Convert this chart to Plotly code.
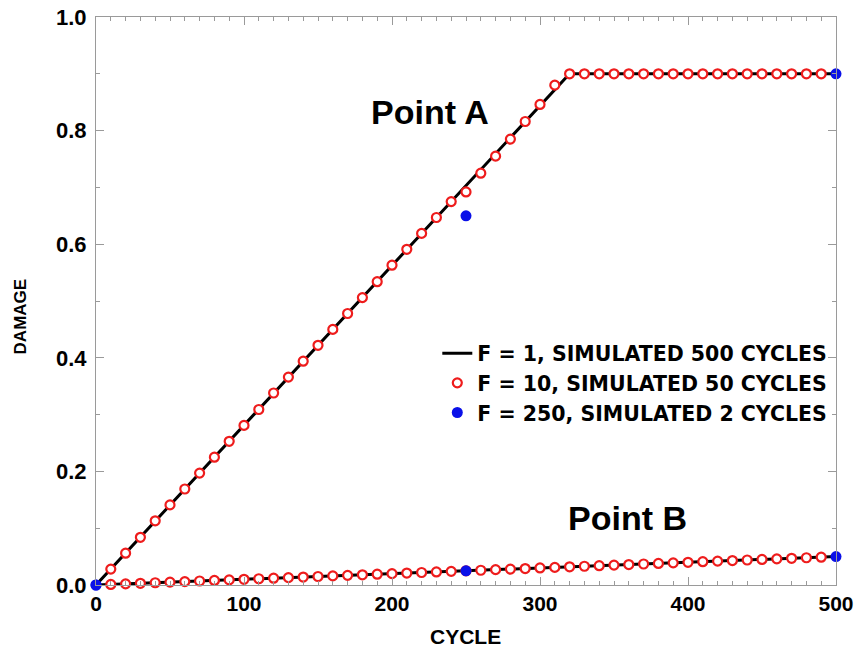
import plotly.graph_objects as go

# ---------------- data ----------------
cycles_red = [10, 20, 30, 40, 50, 60, 70, 80, 90, 100, 110, 120, 130, 140, 150, 160, 170, 180, 190, 200,
              210, 220, 230, 240, 250, 260, 270, 280, 290, 300, 310, 320, 330, 340, 350, 360, 370, 380, 390, 400,
              410, 420, 430, 440, 450, 460, 470, 480, 490]
damage_A_red = [0.028, 0.056, 0.084, 0.113, 0.141, 0.169, 0.197, 0.225, 0.253, 0.281, 0.309, 0.338, 0.366, 0.394,
                0.422, 0.450, 0.478, 0.506, 0.534, 0.563, 0.591, 0.619, 0.647, 0.675, 0.692, 0.725, 0.755, 0.785,
                0.816, 0.846, 0.880, 0.900, 0.900, 0.900, 0.900, 0.900, 0.900, 0.900, 0.900, 0.900, 0.900, 0.900,
                0.900, 0.900, 0.900, 0.900, 0.900, 0.900, 0.900]
damage_B_red = [0.001, 0.002, 0.003, 0.004, 0.005, 0.006, 0.007, 0.008, 0.009, 0.010, 0.011, 0.012, 0.013, 0.014,
                0.015, 0.016, 0.017, 0.018, 0.019, 0.020, 0.021, 0.022, 0.023, 0.024, 0.025, 0.026, 0.027, 0.028,
                0.029, 0.030, 0.031, 0.032, 0.033, 0.034, 0.035, 0.036, 0.037, 0.038, 0.039, 0.040, 0.041, 0.042,
                0.043, 0.044, 0.045, 0.046, 0.047, 0.048, 0.049]

cycles_line_A = [0, 320, 500]
damage_line_A = [0.0, 0.9, 0.9]
cycles_line_B = [0, 500]
damage_line_B = [0.0, 0.05]

cycles_blue = [0, 250, 500]
damage_A_blue = [0.0, 0.65, 0.9]
damage_B_blue = [0.0, 0.025, 0.05]

legend_names = ["F = 1, SIMULATED 500 CYCLES", "F = 10, SIMULATED 50 CYCLES", "F = 250, SIMULATED 2 CYCLES"]
x_ticks = [0, 100, 200, 300, 400, 500]
y_ticks = [0.0, 0.2, 0.4, 0.6, 0.8, 1.0]

FONT = "Liberation Sans, Arial, sans-serif"

# ---------------- figure ----------------
fig = go.Figure()

fig.add_trace(go.Scatter(
    x=cycles_line_A + [None] + cycles_line_B,
    y=damage_line_A + [None] + damage_line_B,
    mode="lines", line=dict(color="black", width=3),
    name=legend_names[0], cliponaxis=False))

fig.add_trace(go.Scatter(
    x=cycles_red + [None] + cycles_red,
    y=damage_A_red + [None] + damage_B_red,
    mode="markers",
    marker=dict(symbol="circle", size=9, color="white", line=dict(color="#ee1c1c", width=2.2)),
    name=legend_names[1], cliponaxis=False))

fig.add_trace(go.Scatter(
    x=cycles_blue + [None] + cycles_blue,
    y=damage_A_blue + [None] + damage_B_blue,
    mode="markers",
    marker=dict(symbol="circle", size=11, color="#0a10e8"),
    name=legend_names[2], cliponaxis=False))

axis_common = dict(
    showline=True, linecolor="#9a9a9a", linewidth=1, mirror="ticks",
    ticks="inside", ticklen=8, tickcolor="#9a9a9a", tickwidth=1,
    showgrid=False, zeroline=False, automargin=False,
)

fig.update_xaxes(
    range=[0, 500], tickvals=x_ticks, ticktext=[str(v) for v in x_ticks],
    minor=dict(dtick=10, ticks="inside", ticklen=4, tickcolor="#9a9a9a", showgrid=False),
    tickfont=dict(family=FONT, size=21, color="black", weight="bold"),
    **axis_common)
fig.update_yaxes(
    range=[0, 1], tickvals=y_ticks, ticktext=["%.1f" % v for v in y_ticks],
    minor=dict(dtick=0.1, ticks="inside", ticklen=4, tickcolor="#9a9a9a", showgrid=False),
    tickfont=dict(family=FONT, size=22, color="black", weight="bold"),
    ticklabelstandoff=4,
    **axis_common)

# axis titles as annotations for exact placement
fig.add_annotation(x=-0.102, y=0.472, xref="paper", yref="paper", text="DAMAGE", showarrow=False,
                   textangle=-90, xanchor="center", yanchor="middle",
                   font=dict(family=FONT, size=17, color="black", weight="bold"))
fig.add_annotation(x=0.4995, y=-0.0915, xref="paper", yref="paper", text="CYCLE", showarrow=False,
                   xanchor="center", yanchor="middle",
                   font=dict(family=FONT, size=21, color="black", weight="bold"))

fig.add_annotation(x=0.452, y=0.833, xref="paper", yref="paper", text="Point A", showarrow=False,
                   xanchor="center", yanchor="middle",
                   font=dict(family=FONT, size=34, color="black", weight="bold"))
fig.add_annotation(x=0.7176, y=0.118, xref="paper", yref="paper", text="Point B", showarrow=False,
                   xanchor="center", yanchor="middle",
                   font=dict(family=FONT, size=34, color="black", weight="bold"))

fig.update_layout(
    width=860, height=651,
    margin=dict(l=96, r=24, t=17, b=66, autoexpand=False),
    paper_bgcolor="white", plot_bgcolor="white",
    showlegend=True,
    legend=dict(x=0.995, y=0.443, xanchor="right", yanchor="top", bgcolor="rgba(0,0,0,0)",
                font=dict(family="DejaVu Sans, Liberation Sans, sans-serif", size=20.5, color="black",
                          weight="bold"),
                itemwidth=30, tracegroupgap=0),
)

fig.write_html("out.html")
